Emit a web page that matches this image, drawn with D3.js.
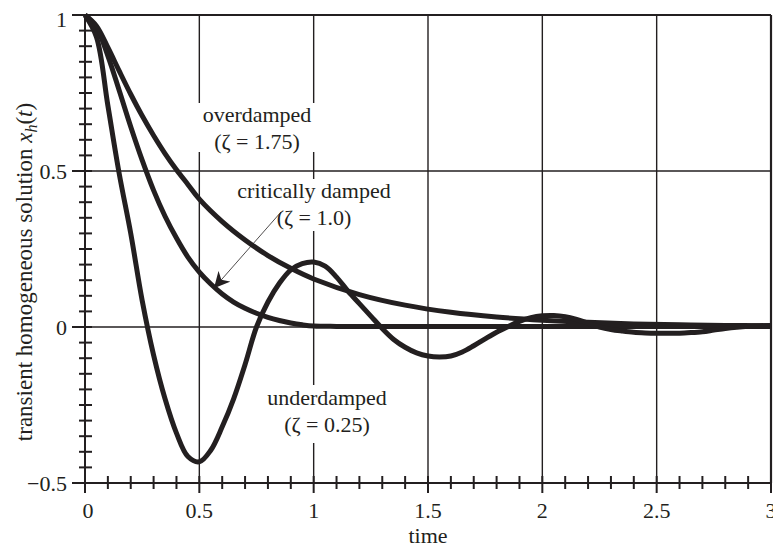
<html>
<head>
<script src="https://d3js.org/d3.v7.min.js"></script>
<style>
  body { margin: 0; background: #fff; }
</style>
</head>
<body>
<svg id="chart" width="773" height="550" font-family="Liberation Serif" font-size="22" fill="#231f20"></svg>
<script>
// values
const timeUnder = [0,0.05,0.1,0.15,0.2,0.25,0.3,0.35,0.4,0.45,0.5,0.55,0.6,0.65,0.7,0.75,0.8,0.85,0.9,0.95,
  1,1.05,1.1,1.15,1.2,1.25,1.3,1.35,1.4,1.45,1.5,1.55,1.6,1.65,1.7,1.75,1.8,1.85,1.9,1.95,
  2,2.05,2.1,2.15,2.2,2.25,2.3,2.35,2.4,2.45,2.5,2.55,2.6,2.65,2.7,2.75,2.8,2.85,2.9,2.95,3];
const underdamped = [1,0.93,0.71,0.49,0.30,0.085,-0.09,-0.23,-0.34,-0.415,-0.432,-0.395,-0.32,-0.23,-0.12,0.0,0.08,0.14,0.183,0.203,
  0.208,0.195,0.16,0.115,0.075,0.035,-0.005,-0.04,-0.065,-0.083,-0.093,-0.096,-0.093,-0.08,-0.06,-0.038,-0.017,0.001,0.018,0.03,
  0.036,0.037,0.033,0.024,0.012,0.0,-0.008,-0.013,-0.017,-0.019,-0.02,-0.02,-0.02,-0.018,-0.015,-0.01,-0.005,-0.001,0.002,0.004,0.005];

const timeCrit = [0,0.05,0.1,0.15,0.2,0.25,0.3,0.35,0.4,0.45,0.5,0.55,0.6,0.65,0.7,0.75,0.8,0.85,0.9,0.95,1,1.1,1.2,1.3,1.4,1.5,1.6,1.8,2,2.5,3];
const critical = [1,0.960,0.869,0.757,0.642,0.535,0.438,0.355,0.285,0.224,0.176,0.138,0.106,0.080,0.060,0.044,0.031,0.021,0.013,0.007,0.003,0.002,0.002,0.002,0.002,0.002,0.002,0.002,0.002,0.002,0.002];

const timeOver = [0,0.05,0.1,0.15,0.2,0.25,0.3,0.35,0.4,0.45,0.5,0.6,0.7,0.8,0.9,1,1.2,1.4,1.6,1.8,2,2.2,2.4,2.6,2.8,3];
const overdamped = [1,0.965,0.896,0.820,0.746,0.677,0.614,0.556,0.504,0.457,0.410,0.338,0.279,0.229,0.188,0.154,0.104,0.070,0.047,0.032,0.022,0.015,0.010,0.007,0.005,0.004];

const xTickLabels = ["0","0.5","1","1.5","2","2.5","3"];
const yTickLabels = ["\u22120.5","0","0.5","1"];
const xMajor = [0,0.5,1,1.5,2,2.5,3];
const yMajor = [-0.5,0,0.5,1];

const svg = d3.select("#chart");
const ink = "#231f20";

const x = d3.scaleLinear().domain([0, 3]).range([85, 771]);
const y = d3.scaleLinear().domain([-0.5, 1]).range([483, 15]);

const xMinor = d3.range(0, 31).map(i => i / 10);
const yMinor = d3.range(0, 31).map(i => -0.5 + i / 20);

// grid
const grid = svg.append("g").attr("stroke", ink).attr("stroke-width", 1.4);
grid.selectAll("line.v").data(xMajor.slice(1)).join("line")
  .attr("x1", d => x(d)).attr("x2", d => x(d))
  .attr("y1", y(1)).attr("y2", y(-0.5))
  .attr("stroke-width", d => d === 3 ? 2.2 : 1.4);
grid.selectAll("line.h").data(yMajor.slice(1)).join("line")
  .attr("y1", d => y(d)).attr("y2", d => y(d))
  .attr("x1", x(0)).attr("x2", x(3))
  .attr("stroke-width", d => d === 1 ? 2.2 : 1.4);

// annotations with white backing that breaks the grid
const notes = [
  { lines: ["overdamped", "(\u03b6 = 1.75)"], cx: 257, y0: 122, box: [197, 103, 120, 49] },
  { lines: ["critically damped", "(\u03b6 = 1.0)"], cx: 314, y0: 198, box: [305, 179, 16, 52] },
  { lines: ["underdamped", "(\u03b6 = 0.25)"], cx: 327, y0: 405, box: [305, 385, 16, 58] }
];
notes.forEach(n => {
  svg.append("rect").attr("x", n.box[0]).attr("y", n.box[1])
    .attr("width", n.box[2]).attr("height", n.box[3]).attr("fill", "#fff");
  n.lines.forEach((t, i) => {
    svg.append("text").attr("x", n.cx).attr("y", n.y0 + i * 27)
      .attr("text-anchor", "middle").text(t);
  });
});

// arrow to the critically damped curve
svg.append("defs").append("marker")
  .attr("id", "head").attr("viewBox", "0 0 10 10").attr("refX", 9).attr("refY", 5)
  .attr("markerWidth", 16).attr("markerHeight", 16).attr("markerUnits", "userSpaceOnUse")
  .attr("orient", "auto")
  .append("path").attr("d", "M0,0 L10,5 L0,10 L3,5 Z").attr("fill", ink);
svg.append("line")
  .attr("x1", 281).attr("y1", 212).attr("x2", 215).attr("y2", 287)
  .attr("stroke", ink).attr("stroke-width", 0.8).attr("marker-end", "url(#head)");

// curves
const line = d3.line().x(d => x(d[0])).y(d => y(d[1])).curve(d3.curveCatmullRom.alpha(0.5));
const series = [
  d3.zip(timeOver, overdamped),
  d3.zip(timeCrit, critical),
  d3.zip(timeUnder, underdamped)
];
svg.append("g").selectAll("path").data(series).join("path")
  .attr("d", line).attr("fill", "none").attr("stroke", ink)
  .attr("stroke-width", 5).attr("stroke-linejoin", "round");

// axes with crossing ticks
const ax = svg.append("g").attr("stroke", ink).attr("stroke-width", 2);
ax.append("line").attr("x1", x(0)).attr("x2", x(0)).attr("y1", y(1)).attr("y2", y(-0.5));
ax.append("line").attr("x1", x(0)).attr("x2", x(3)).attr("y1", y(-0.5)).attr("y2", y(-0.5));
ax.selectAll("line.yt").data(yMinor).join("line")
  .attr("y1", d => y(d)).attr("y2", d => y(d))
  .attr("x1", (d, i) => i % 10 === 0 ? x(0) - 13 : x(0) - 6)
  .attr("x2", x(0) + 7);
ax.selectAll("line.xt").data(xMinor).join("line")
  .attr("x1", d => x(d)).attr("x2", d => x(d))
  .attr("y1", y(-0.5) - 7)
  .attr("y2", (d, i) => i % 5 === 0 ? y(-0.5) + 10 : y(-0.5) + 6);

// tick labels
svg.selectAll("text.xl").data(xMajor).join("text")
  .attr("x", d => x(d) + (d === 0 ? 3 : 0)).attr("y", 518)
  .attr("text-anchor", "middle").text((d, i) => xTickLabels[i]);
svg.selectAll("text.yl").data(yMajor).join("text")
  .attr("x", 67).attr("y", d => Math.max(y(d) + 8, 27))
  .attr("text-anchor", "end").text((d, i) => yTickLabels[i]);

// axis titles
svg.append("text").attr("x", x(1.5)).attr("y", 543).attr("text-anchor", "middle").text("time");
const yt = svg.append("text").attr("transform", "translate(32,272) rotate(-90)")
  .attr("text-anchor", "middle").attr("font-size", 23);
yt.append("tspan").text("transient homogeneous solution ");
yt.append("tspan").attr("font-style", "italic").text("x");
yt.append("tspan").attr("font-style", "italic").attr("font-size", 16).attr("dy", 5).text("h");
yt.append("tspan").attr("dy", -5).text("(");
yt.append("tspan").attr("font-style", "italic").text("t");
yt.append("tspan").text(")");
</script>
</body>
</html>
